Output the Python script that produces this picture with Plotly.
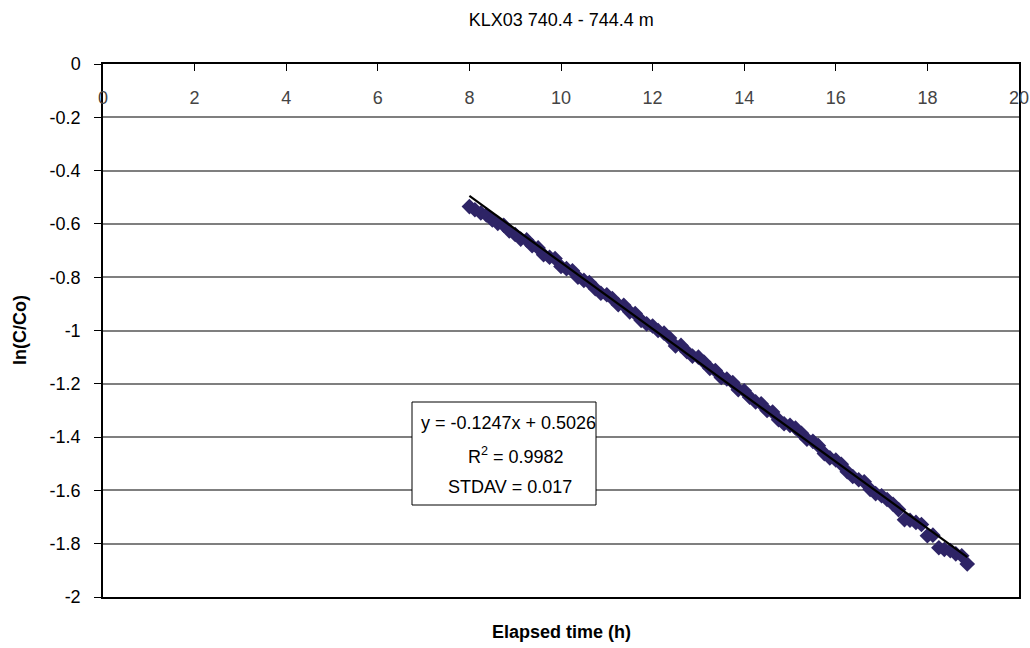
import plotly.graph_objects as go

# ---- data ----
elapsed_h = [8.00, 8.12, 8.25, 8.37, 8.50, 8.62, 8.75, 8.87, 9.00, 9.12,
             9.25, 9.37, 9.50, 9.62, 9.75, 9.87, 10.00, 10.12, 10.25, 10.37,
             10.50, 10.62, 10.75, 10.87, 11.00, 11.12, 11.25, 11.37, 11.50, 11.62,
             11.75, 11.87, 12.00, 12.12, 12.25, 12.37, 12.50, 12.62, 12.75, 12.87,
             13.00, 13.12, 13.25, 13.37, 13.50, 13.62, 13.75, 13.87, 14.00, 14.12,
             14.25, 14.37, 14.50, 14.62, 14.75, 14.87, 15.00, 15.12, 15.25, 15.37,
             15.50, 15.62, 15.75, 15.87, 16.00, 16.12, 16.25, 16.37, 16.50, 16.62,
             16.75, 16.87, 17.00, 17.12, 17.25, 17.37, 17.50, 17.62, 17.75, 17.87,
             18.00, 18.12, 18.25, 18.37, 18.50, 18.62, 18.75, 18.87]
ln_c_co = [-0.535, -0.547, -0.559, -0.566, -0.585, -0.598, -0.605, -0.626, -0.640, -0.657,
           -0.660, -0.682, -0.690, -0.716, -0.725, -0.730, -0.760, -0.768, -0.776, -0.800,
           -0.812, -0.820, -0.843, -0.860, -0.866, -0.880, -0.903, -0.905, -0.930, -0.936,
           -0.962, -0.975, -0.983, -1.000, -1.010, -1.028, -1.058, -1.056, -1.080, -1.096,
           -1.100, -1.118, -1.142, -1.150, -1.176, -1.182, -1.195, -1.222, -1.226, -1.250,
           -1.268, -1.275, -1.300, -1.306, -1.335, -1.350, -1.356, -1.366, -1.386, -1.408,
           -1.416, -1.432, -1.462, -1.478, -1.486, -1.502, -1.530, -1.548, -1.560, -1.568,
           -1.596, -1.612, -1.620, -1.634, -1.652, -1.672, -1.710, -1.712, -1.720, -1.728,
           -1.770, -1.768, -1.815, -1.822, -1.826, -1.838, -1.845, -1.876]

trend_slope = -0.1247
trend_intercept = 0.5026
trend_r2 = 0.9982
trend_stdav = 0.017

x_ticks = [0, 2, 4, 6, 8, 10, 12, 14, 16, 18, 20]
y_tick_vals = [0, -0.2, -0.4, -0.6, -0.8, -1.0, -1.2, -1.4, -1.6, -1.8, -2.0]
y_tick_text = ["0", "-0.2", "-0.4", "-0.6", "-0.8", "-1", "-1.2", "-1.4", "-1.6", "-1.8", "-2"]

title_text = "KLX03 740.4 - 744.4 m"
x_title = "Elapsed time (h)"
y_title = "ln(C/Co)"

FONT = "Arial, 'Liberation Sans', sans-serif"

trend_x = [elapsed_h[0], elapsed_h[-1]]
trend_y = [trend_slope * v + trend_intercept for v in trend_x]

fig = go.Figure()
fig.add_trace(go.Scatter(
    x=elapsed_h, y=ln_c_co, mode="markers",
    marker=dict(symbol="diamond", size=12, color="#2E2466", line=dict(width=0)),
    showlegend=False, hoverinfo="x+y"))
fig.add_trace(go.Scatter(
    x=trend_x, y=trend_y, mode="lines",
    line=dict(color="black", width=2.2), showlegend=False))

fig.update_layout(
    width=1030, height=648,
    margin=dict(l=103, r=11, t=64, b=51, autoexpand=False),
    paper_bgcolor="white", plot_bgcolor="white",
    font=dict(family=FONT, size=18, color="black"),
    title=dict(text=title_text, x=0.5449, xanchor="center", y=1 - 20 / 648, yanchor="middle",
               yref="container", font=dict(size=18, family=FONT, color="black")),
    xaxis=dict(range=[0, 20], tickvals=x_ticks, side="top", automargin=False,
               ticks="inside", ticklen=7, tickcolor="black", tickwidth=1,
               ticklabelposition="inside", ticklabeloverflow="allow", ticklabelstandoff=21,
               showline=True, linecolor="black", linewidth=1.5, mirror=True,
               showgrid=False, zeroline=False, tickfont=dict(size=18)),
    yaxis=dict(range=[-2, 0], tickvals=y_tick_vals, ticktext=y_tick_text, automargin=False,
               ticks="outside", ticklen=7, tickcolor="black", tickwidth=1,
               ticklabelstandoff=10,
               showline=True, linecolor="black", linewidth=1.5, mirror=True,
               showgrid=True, gridcolor="#7f7f7f", gridwidth=1.5,
               zeroline=False, tickfont=dict(size=18)),
)

# axis titles
fig.add_annotation(text="<b>" + x_title + "</b>", xref="paper", yref="paper",
                   x=0.5, y=-(632 - 597) / 533, xanchor="center", yanchor="middle",
                   showarrow=False, font=dict(size=18, family=FONT))
fig.add_annotation(text="<b>" + y_title + "</b>", xref="paper", yref="paper",
                   x=(20 - 103) / 916, y=1 - (330 - 64) / 533, xanchor="center", yanchor="middle",
                   textangle=-90, showarrow=False, font=dict(size=18, family=FONT))

# trendline equation box
def px_x(p):
    return (p - 103) / 916

def px_y(p):
    return 1 - (p - 64) / 533

fig.add_shape(type="rect", xref="paper", yref="paper",
              x0=px_x(412), x1=px_x(596), y0=px_y(505), y1=px_y(402),
              line=dict(color="black", width=1), fillcolor="white", layer="above")
box_lines = [
    ("y = %.4fx + %.4f" % (trend_slope, trend_intercept), 508, 423),
    ("R<sup>2</sup> = %.4f" % trend_r2, 516, 455),
    ("STDAV = %.3f" % trend_stdav, 510, 487),
]
for txt, cx, cy in box_lines:
    fig.add_annotation(text=txt, xref="paper", yref="paper",
                       x=px_x(cx), y=px_y(cy), xanchor="center", yanchor="middle",
                       showarrow=False, font=dict(size=18, family=FONT))

fig.write_html("out.html")
